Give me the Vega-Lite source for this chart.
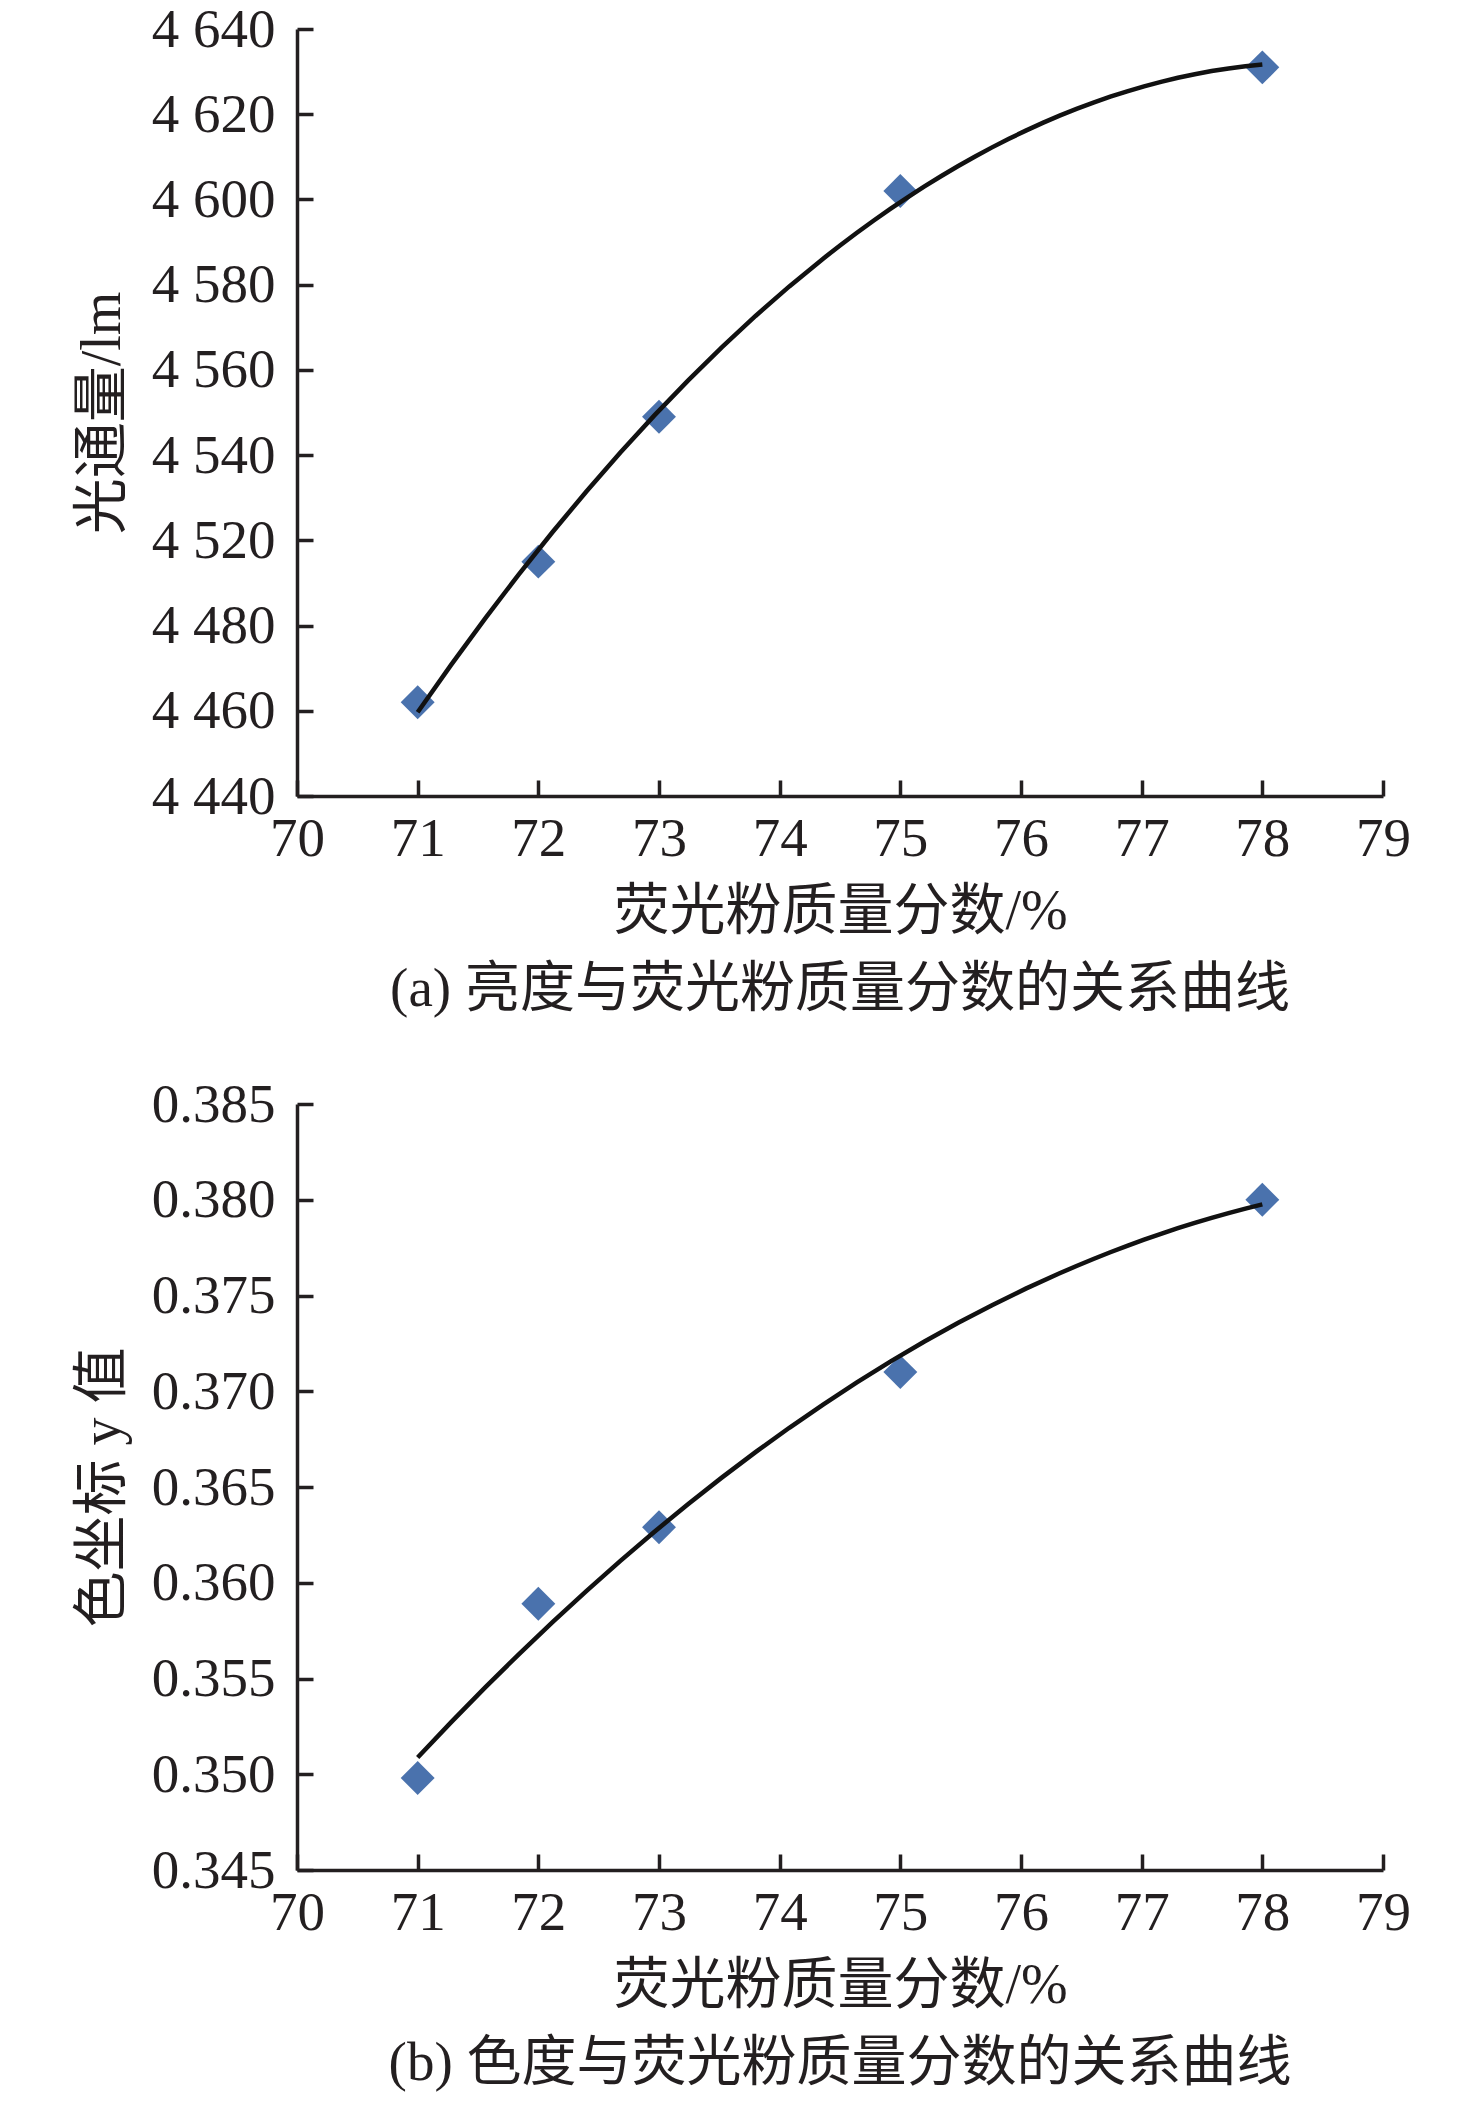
{
  "$schema": "https://vega.github.io/schema/vega-lite/v6.json",
  "background": "white",
  "padding": {"left": 74, "top": 2, "right": 10, "bottom": 5},
  "datasets": {
    "flux": [
      {"mass": 71, "value": 4482},
      {"mass": 72, "value": 4515},
      {"mass": 73, "value": 4549},
      {"mass": 75, "value": 4602},
      {"mass": 78, "value": 4631}
    ],
    "chroma": [
      {"mass": 71, "value": 0.3498},
      {"mass": 72, "value": 0.3589},
      {"mass": 73, "value": 0.3629},
      {"mass": 75, "value": 0.3710},
      {"mass": 78, "value": 0.3800}
    ]
  },
  "spacing": 60,
  "vconcat": [
    {
      "width": 1086,
      "height": 767,
      "data": {"name": "flux"},
      "title": {"text": "(a) 亮度与荧光粉质量分数的关系曲线", "orient": "bottom", "anchor": "middle", "offset": 24},
      "encoding": {
        "x": {
          "field": "mass",
          "type": "quantitative",
          "title": "荧光粉质量分数/%",
          "scale": {"domain": [70, 79], "nice": false, "zero": false},
          "axis": {"values": [70, 71, 72, 73, 74, 75, 76, 77, 78, 79], "format": "d"}
        },
        "y": {
          "field": "value",
          "type": "quantitative",
          "title": "光通量/lm",
          "scale": {"domain": [4460, 4640], "nice": false, "zero": false},
          "axis": {
            "values": [4460, 4480, 4500, 4520, 4540, 4560, 4580, 4600, 4620, 4640],
            "labelExpr": "datum.value <= 4500 ? '4 ' + (datum.value - 4020) : '4 ' + (datum.value - 4000)"
          }
        }
      },
      "layer": [
        {"mark": {"type": "point", "shape": "diamond", "filled": true, "size": 1150, "color": "#4a72ad", "opacity": 1}},
        {
          "transform": [{"regression": "value", "on": "mass", "method": "poly", "order": 2, "extent": [71, 78]}],
          "mark": {"type": "line", "color": "#111111", "strokeWidth": 4.5}
        }
      ]
    },
    {
      "width": 1086,
      "height": 766,
      "data": {"name": "chroma"},
      "title": {"text": "(b) 色度与荧光粉质量分数的关系曲线", "orient": "bottom", "anchor": "middle", "offset": 24},
      "encoding": {
        "x": {
          "field": "mass",
          "type": "quantitative",
          "title": "荧光粉质量分数/%",
          "scale": {"domain": [70, 79], "nice": false, "zero": false},
          "axis": {"values": [70, 71, 72, 73, 74, 75, 76, 77, 78, 79], "format": "d"}
        },
        "y": {
          "field": "value",
          "type": "quantitative",
          "title": "色坐标 y 值",
          "scale": {"domain": [0.345, 0.385], "nice": false, "zero": false},
          "axis": {
            "values": [0.345, 0.35, 0.355, 0.36, 0.365, 0.37, 0.375, 0.38, 0.385],
            "format": ".3f"
          }
        }
      },
      "layer": [
        {"mark": {"type": "point", "shape": "diamond", "filled": true, "size": 1150, "color": "#4a72ad", "opacity": 1}},
        {
          "transform": [{"regression": "value", "on": "mass", "method": "poly", "order": 2, "extent": [71, 78]}],
          "mark": {"type": "line", "color": "#111111", "strokeWidth": 4.5}
        }
      ]
    }
  ],
  "config": {
    "view": {"stroke": null},
    "font": "Liberation Serif, Noto Sans CJK SC",
    "axis": {
      "grid": false,
      "domainColor": "#231f20",
      "domainWidth": 3.5,
      "tickColor": "#231f20",
      "tickWidth": 3.5,
      "tickSize": -16,
      "labelFont": "Liberation Serif",
      "labelFontSize": 55,
      "labelColor": "#231f20",
      "labelFlush": false,
      "labelOverlap": false,
      "titleFont": "Liberation Serif, Noto Sans CJK SC",
      "titleFontSize": 56,
      "titleFontWeight": "normal",
      "titleColor": "#231f20"
    },
    "axisX": {"labelPadding": 32, "titlePadding": 18},
    "axisY": {"labelPadding": 38, "titlePadding": 20},
    "title": {
      "font": "Liberation Serif, Noto Sans CJK SC",
      "fontSize": 55,
      "fontWeight": "normal",
      "color": "#231f20"
    }
  }
}
